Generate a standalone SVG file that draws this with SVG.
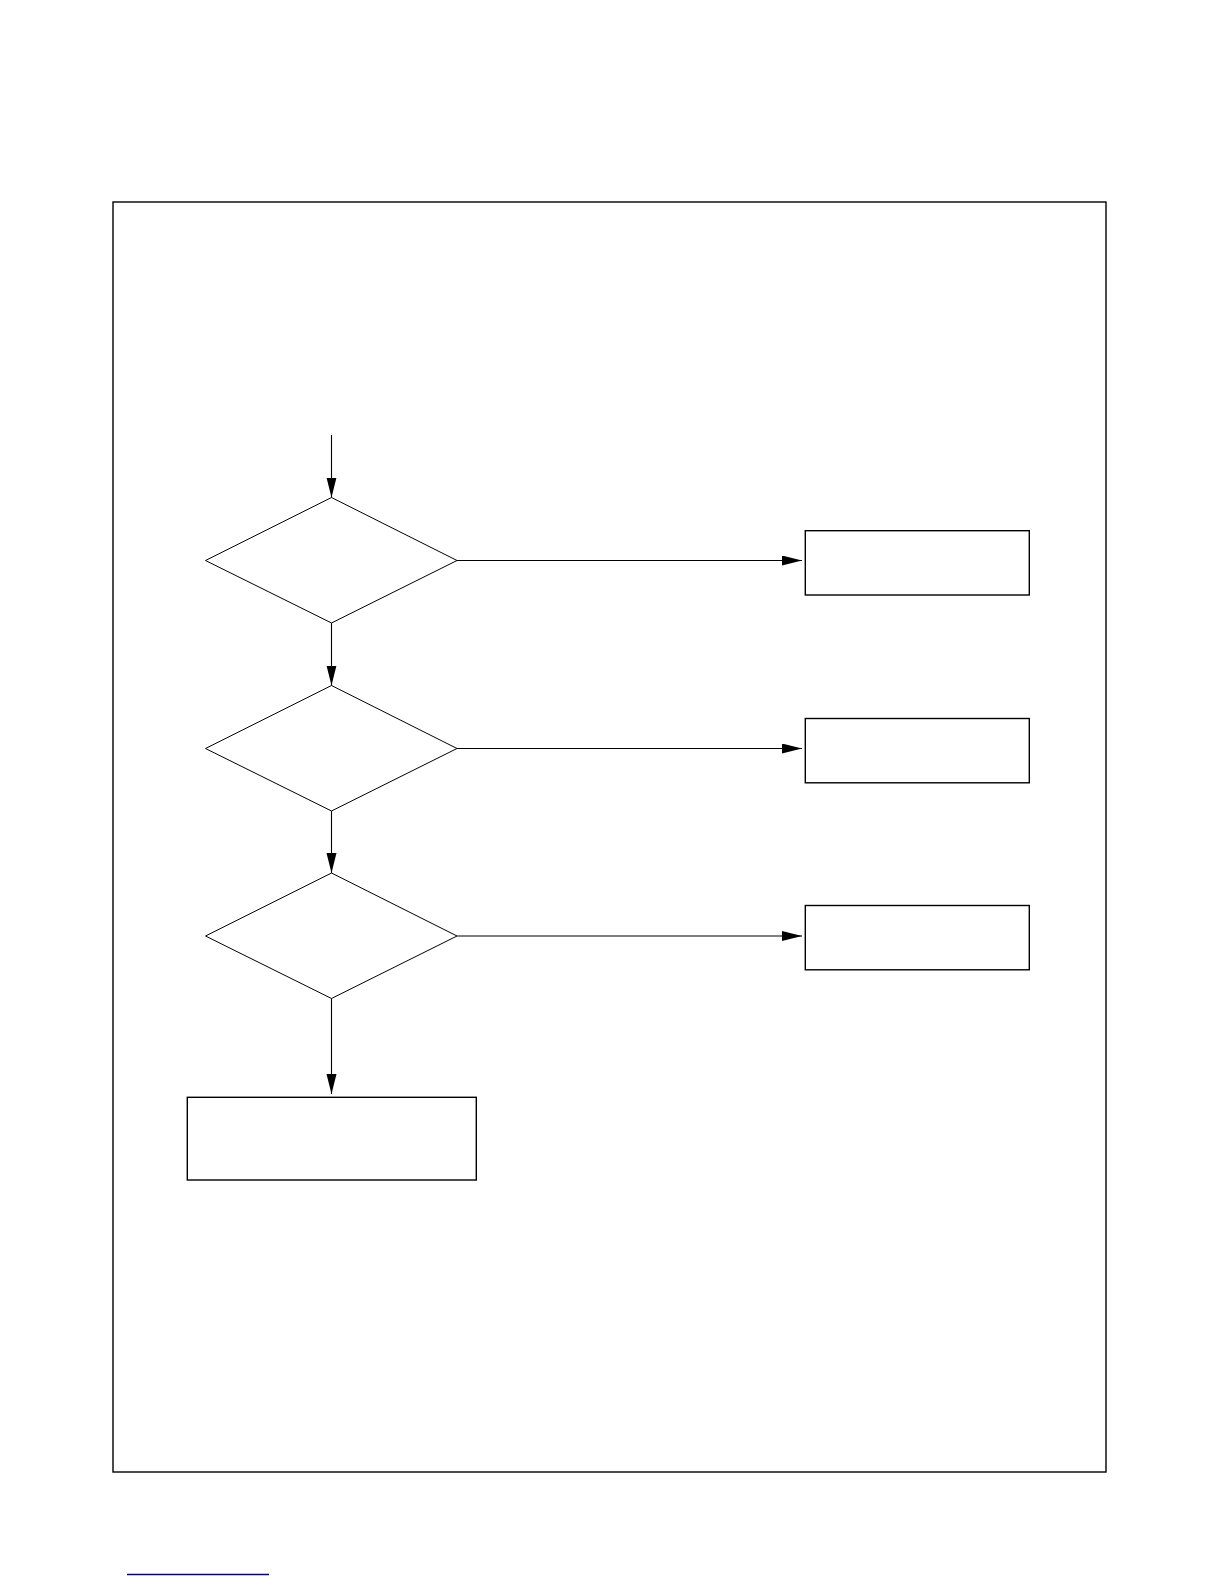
<svg xmlns="http://www.w3.org/2000/svg" width="1224" height="1584" viewBox="0 0 1224 1584">
<style>
.frame{fill:none;stroke:#000;stroke-width:1.4}
.box{fill:#fff;stroke:#000;stroke-width:1.4}
.dia{fill:#fff;stroke:#000;stroke-width:1}
.conn{fill:none;stroke:#000;stroke-width:1.1}
</style>
<defs>
<marker id="arr" markerUnits="userSpaceOnUse" markerWidth="22" markerHeight="12" refX="20" refY="5" orient="auto">
<path d="M0,0 L20,5 L0,10 z" fill="#000"/>
</marker>
</defs>
<rect width="1224" height="1584" fill="#fff"/>
<rect class="frame" x="113" y="202" width="993" height="1270"/>
<g id="decision1"><polygon class="dia" points="331.5,497.5 457,560.5 331.5,623 205.5,560.5"/></g>
<g id="decision2"><polygon class="dia" points="331.5,685.5 457,748.5 331.5,811 205.5,748.5"/></g>
<g id="decision3"><polygon class="dia" points="331.5,873 457,936 331.5,998.5 205.5,936"/></g>
<g id="result1"><rect class="box" x="805.3" y="530.7" width="224" height="64.3"/></g>
<g id="result2"><rect class="box" x="805.3" y="718.5" width="224" height="64.3"/></g>
<g id="result3"><rect class="box" x="805.3" y="905.5" width="224" height="64.3"/></g>
<g id="final"><rect class="box" x="187.3" y="1097.3" width="289" height="82.7"/></g>
<g id="connectors">
<line class="conn" x1="331.5" y1="435" x2="331.5" y2="497.5" marker-end="url(#arr)"/>
<line class="conn" x1="331.5" y1="623" x2="331.5" y2="685.5" marker-end="url(#arr)"/>
<line class="conn" x1="331.5" y1="811" x2="331.5" y2="873" marker-end="url(#arr)"/>
<line class="conn" x1="331.5" y1="998.5" x2="331.5" y2="1094" marker-end="url(#arr)"/>
<line class="conn" x1="457" y1="560.5" x2="802" y2="560.5" marker-end="url(#arr)"/>
<line class="conn" x1="457" y1="748.5" x2="802" y2="748.5" marker-end="url(#arr)"/>
<line class="conn" x1="457" y1="936" x2="802" y2="936" marker-end="url(#arr)"/>
</g>
<line x1="127" y1="1574.5" x2="269" y2="1574.5" stroke="#000080" stroke-width="1.3"/>
</svg>
